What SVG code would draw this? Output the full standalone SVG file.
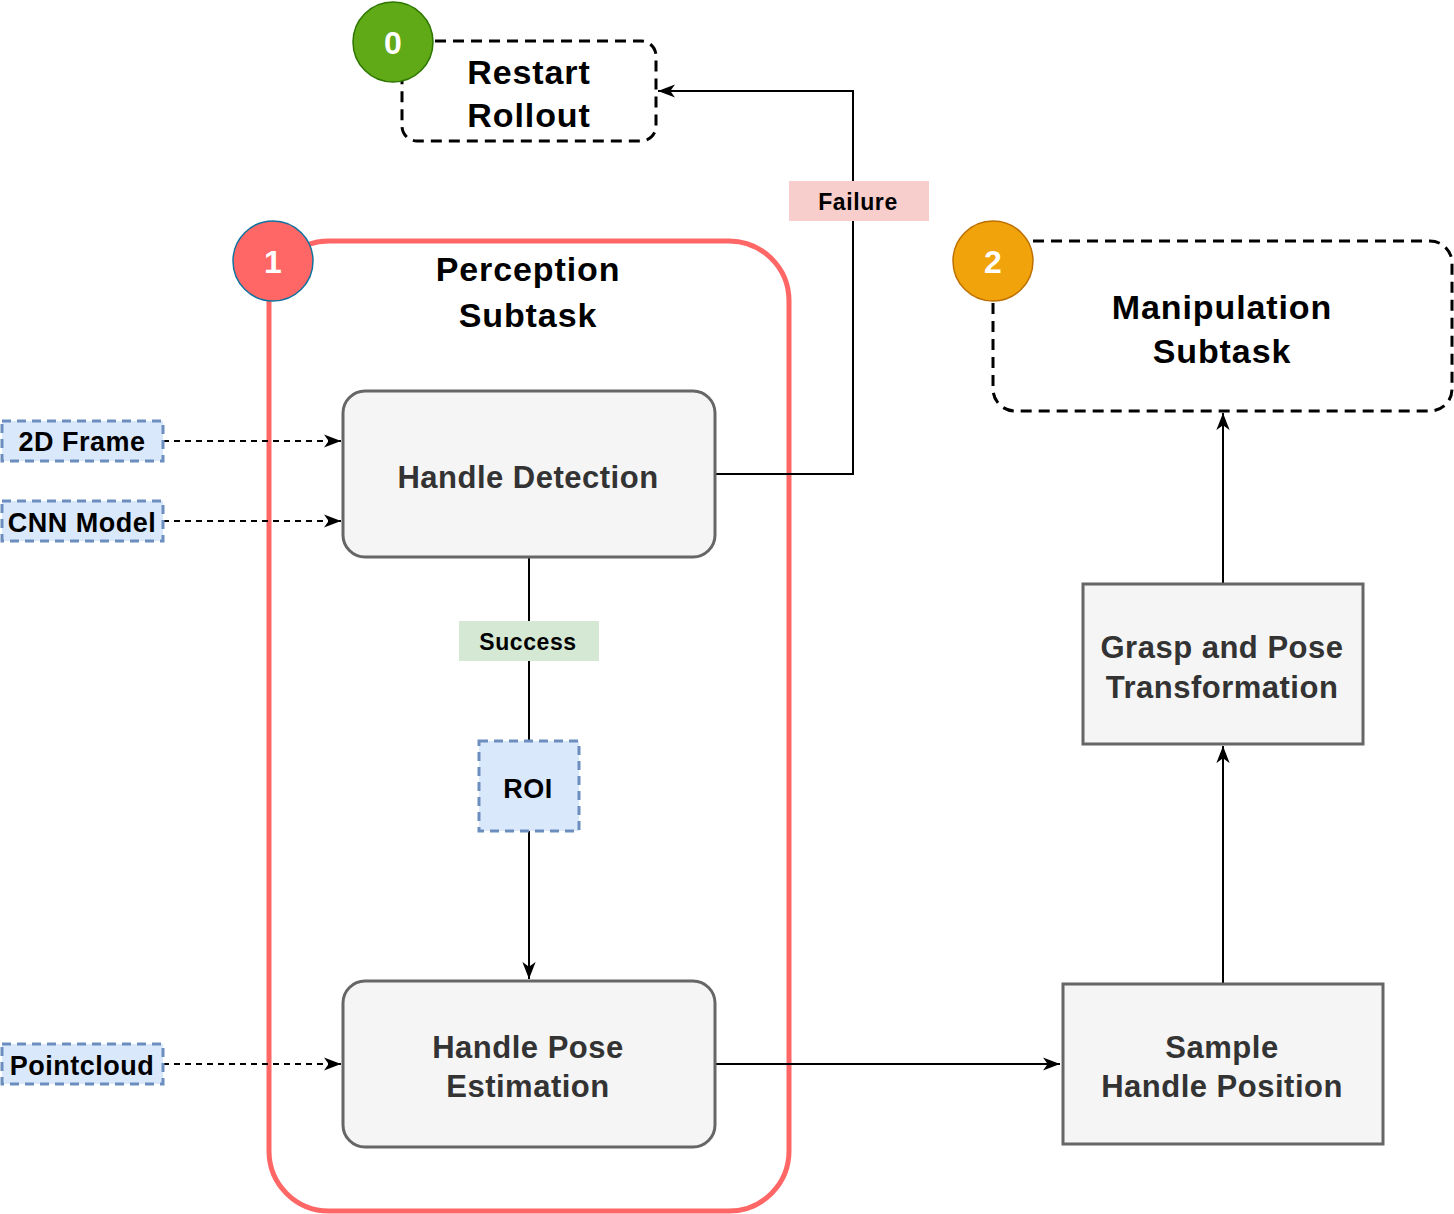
<svg xmlns="http://www.w3.org/2000/svg" width="1454" height="1214" viewBox="0 0 1454 1214">
<defs>
<style>
text{font-family:"Liberation Sans",Arial,sans-serif;font-weight:bold;text-anchor:middle;}
.proc{fill:#f5f5f5;stroke:#666666;stroke-width:3;}
.ptxt{fill:#333333;font-size:31px;letter-spacing:0.5px;}
.inp{fill:#dae8fc;stroke:#6c8ebf;stroke-width:3;stroke-dasharray:9,6;}
.itxt{fill:#000;font-size:27px;letter-spacing:0.5px;}
.dash{fill:none;stroke:#000;stroke-width:3;stroke-dasharray:11,7;}
.title{fill:#000;font-size:34px;letter-spacing:0.9px;}
.badge{font-size:32px;fill:#fff;}
.edge{fill:none;stroke:#000;stroke-width:2;}
.dedge{fill:none;stroke:#000;stroke-width:2;stroke-dasharray:6,5;}
.lbl{font-size:23px;fill:#000;letter-spacing:0.6px;}
</style>
<marker id="arr" viewBox="0 0 20 20" refX="18" refY="10" markerWidth="19" markerHeight="19" markerUnits="userSpaceOnUse" orient="auto">
<path d="M0,3 L18,10 L0,17 L5,10 Z" fill="#000"/>
</marker>
</defs>

<g id="perception-container">
<rect x="269" y="241" width="520" height="970" rx="60" ry="60" fill="none" stroke="#ff6666" stroke-width="5"/>
<text class="title" x="528" y="281">Perception</text>
<text class="title" x="528" y="327">Subtask</text>
</g>

<g id="connectors">
<polyline class="edge" points="715,474 853,474 853,91 658,91" marker-end="url(#arr)"/>
<line class="edge" x1="529" y1="557" x2="529" y2="741"/>
<line class="edge" x1="529" y1="831" x2="529" y2="979" marker-end="url(#arr)"/>
<line class="dedge" x1="163" y1="441" x2="341" y2="441" marker-end="url(#arr)"/>
<line class="dedge" x1="163" y1="521" x2="341" y2="521" marker-end="url(#arr)"/>
<line class="dedge" x1="163" y1="1064" x2="341" y2="1064" marker-end="url(#arr)"/>
<line class="edge" x1="715" y1="1064" x2="1060" y2="1064" marker-end="url(#arr)"/>
<line class="edge" x1="1223" y1="984" x2="1223" y2="746" marker-end="url(#arr)"/>
<line class="edge" x1="1223" y1="584" x2="1223" y2="413" marker-end="url(#arr)"/>
<g id="label-failure">
<rect x="789" y="181" width="140" height="40" fill="#f8cecc"/>
<text class="lbl" x="858" y="210">Failure</text>
</g>
<g id="label-success">
<rect x="459" y="621" width="140" height="40" fill="#d5e8d4"/>
<text class="lbl" x="528" y="650">Success</text>
</g>
</g>

<g id="restart-rollout">
<rect class="dash" x="402" y="41" width="254" height="100" rx="15" ry="15"/>
<text class="title" x="529" y="84">Restart</text>
<text class="title" x="529" y="127">Rollout</text>
</g>
<g id="badge-0">
<circle cx="393" cy="42" r="40" fill="#60a917" stroke="#2d7600" stroke-width="1.5"/>
<text class="badge" x="393" y="54">0</text>
</g>

<g id="badge-1">
<circle cx="273" cy="261" r="40" fill="#ff6666" stroke="#10739e" stroke-width="1.5"/>
<text class="badge" x="273" y="273">1</text>
</g>

<g id="manipulation-subtask">
<rect class="dash" x="993" y="241" width="459" height="170" rx="22" ry="22"/>
<text class="title" x="1222" y="319">Manipulation</text>
<text class="title" x="1222" y="363">Subtask</text>
</g>
<g id="badge-2">
<circle cx="993" cy="261" r="40" fill="#f0a30a" stroke="#bd7000" stroke-width="1.5"/>
<text class="badge" x="993" y="273">2</text>
</g>

<g id="handle-detection">
<rect class="proc" x="343" y="391" width="372" height="166" rx="22" ry="22"/>
<text class="ptxt" x="528" y="488">Handle Detection</text>
</g>

<g id="roi">
<rect class="inp" x="479" y="741" width="100" height="90"/>
<text class="itxt" x="528" y="798">ROI</text>
</g>

<g id="handle-pose-estimation">
<rect class="proc" x="343" y="981" width="372" height="166" rx="22" ry="22"/>
<text class="ptxt" x="528" y="1058">Handle Pose</text>
<text class="ptxt" x="528" y="1097">Estimation</text>
</g>

<g id="input-2d-frame">
<rect class="inp" x="2" y="421" width="161" height="40"/>
<text class="itxt" x="82" y="451">2D Frame</text>
</g>
<g id="input-cnn-model">
<rect class="inp" x="2" y="501" width="161" height="40"/>
<text class="itxt" x="82" y="532">CNN Model</text>
</g>
<g id="input-pointcloud">
<rect class="inp" x="2" y="1044" width="161" height="40"/>
<text class="itxt" x="82" y="1075">Pointcloud</text>
</g>

<g id="sample-handle-position">
<rect class="proc" x="1063" y="984" width="320" height="160"/>
<text class="ptxt" x="1222" y="1058">Sample</text>
<text class="ptxt" x="1222" y="1097">Handle Position</text>
</g>

<g id="grasp-pose-transformation">
<rect class="proc" x="1083" y="584" width="280" height="160"/>
<text class="ptxt" x="1222" y="658">Grasp and Pose</text>
<text class="ptxt" x="1222" y="698">Transformation</text>
</g>
</svg>
